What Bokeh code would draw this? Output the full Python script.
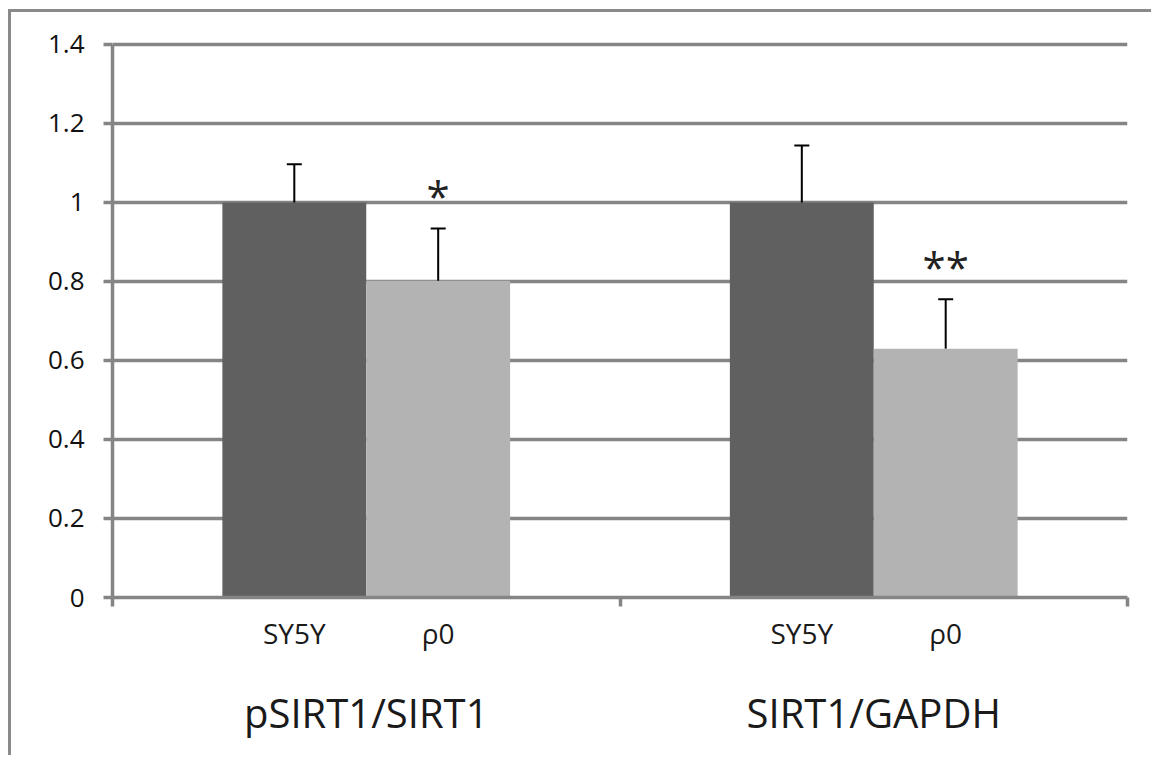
from bokeh.plotting import figure
from bokeh.models import (FixedTicker, CustomJSTickFormatter, Whisker, TeeHead,
                          ColumnDataSource, Range1d, LinearAxis)
from bokeh.core.properties import value
from bokeh.embed import file_html
from bokeh.resources import INLINE

# ---- data ----
groups = ["pSIRT1/SIRT1", "SIRT1/GAPDH"]
cells = ["SY5Y", "ρ0"]
sy5y = [1.0, 1.0]
sy5y_err = [0.097, 0.144]
rho0 = [0.802, 0.630]
rho0_err = [0.132, 0.125]
stars = ["*", "**"]
y_ticks = [0, 0.2, 0.4, 0.6, 0.8, 1.0, 1.2, 1.4]

GRID = "#858585"
DARK = "#606060"
LIGHT = "#b3b3b3"
FONT = "Open Sans"

bar_w = 0.2835
off = bar_w / 2
g = list(range(len(groups)))
x_dark = [i + 0.5 - off for i in g]
x_light = [i + 0.5 + off for i in g]
x_bars = [x for pair in zip(x_dark, x_light) for x in pair]
bar_labels = cells * len(groups)
x_groups = [i + 0.5 for i in g]
x_bounds = [float(i) for i in range(len(groups) + 1)]

p = figure(frame_width=1015, frame_height=557,
           x_range=Range1d(0, 2), y_range=Range1d(0, 1.41),
           output_backend="svg", toolbar_location=None,
           min_border_left=101, min_border_right=24,
           min_border_top=28, min_border_bottom=158,
           background_fill_color="white", border_fill_color="white",
           outline_line_color=None,
           styles={"margin-left": "8px", "margin-top": "9px",
                   "border-top": "3px solid #8a8a8a",
                   "border-left": "3px solid #8a8a8a"})

# grid
p.xgrid.grid_line_color = None
p.ygrid.grid_line_color = GRID
p.ygrid.grid_line_width = 3.5
p.ygrid.ticker = FixedTicker(ticks=y_ticks)

# y axis
ya = p.yaxis[0]
ya.ticker = FixedTicker(ticks=y_ticks)
ya.bounds = (0, 1.4)
ya.formatter = CustomJSTickFormatter(code="return String(Number(tick.toFixed(1)));")
ya.axis_line_color = GRID
ya.axis_line_width = 3.5
ya.major_tick_line_color = GRID
ya.major_tick_line_width = 3.5
ya.major_tick_out = 9
ya.major_tick_in = 0
ya.minor_tick_line_color = None
ya.major_label_text_font = FONT
ya.major_label_text_font_size = "26px"
ya.major_label_text_color = "#111111"
ya.major_label_standoff = 19

# x axis: bar labels as major ticks, category boundaries as minor ticks
xa = p.xaxis[0]
xa.ticker = FixedTicker(ticks=x_bars, minor_ticks=x_bounds)
xa.major_label_overrides = {x: t for x, t in zip(x_bars, bar_labels)}
xa.axis_line_color = GRID
xa.axis_line_width = 3.5
xa.major_tick_line_color = None
xa.major_tick_out = 0
xa.major_tick_in = 0
xa.minor_tick_line_color = GRID
xa.minor_tick_line_width = 3.5
xa.minor_tick_out = 9
xa.minor_tick_in = 0
xa.major_label_standoff = 7
xa.major_label_text_font = FONT
xa.major_label_text_font_size = "28px"
xa.major_label_text_color = "#1a1a1a"

# group label axis
ga = LinearAxis(ticker=FixedTicker(ticks=x_groups),
                major_label_overrides={x: t for x, t in zip(x_groups, groups)},
                axis_line_color=None, major_tick_line_color=None,
                minor_tick_line_color=None, major_tick_out=0, major_tick_in=0,
                major_label_standoff=30, major_label_text_font=FONT,
                major_label_text_font_size="40px", major_label_text_color="#1a1a1a")
p.add_layout(ga, "below")

# bars
p.vbar(x=x_dark, top=sy5y, bottom=0, width=bar_w, fill_color=DARK, line_color=None)
p.vbar(x=x_light, top=rho0, bottom=0, width=bar_w, fill_color=LIGHT, line_color=None)

# error bars (upper only)
src_err = ColumnDataSource(dict(
    x=x_dark + x_light,
    lower=sy5y + rho0,
    upper=[v + e for v, e in zip(sy5y, sy5y_err)] + [v + e for v, e in zip(rho0, rho0_err)],
))
p.add_layout(Whisker(base="x", lower="lower", upper="upper", source=src_err,
                     upper_head=TeeHead(size=15, line_width=2, line_color="black"),
                     lower_head=None, line_width=2, line_color="black",
                     level="annotation"))

# significance stars
p.text(x=x_light, y=[v + e + 0.083 for v, e in zip(rho0, rho0_err)], text=stars,
       text_font=value(FONT), text_font_size="42px", text_align="center",
       text_baseline="alphabetic", text_color="#222222")

open("out.html", "w").write(file_html(p, INLINE))
